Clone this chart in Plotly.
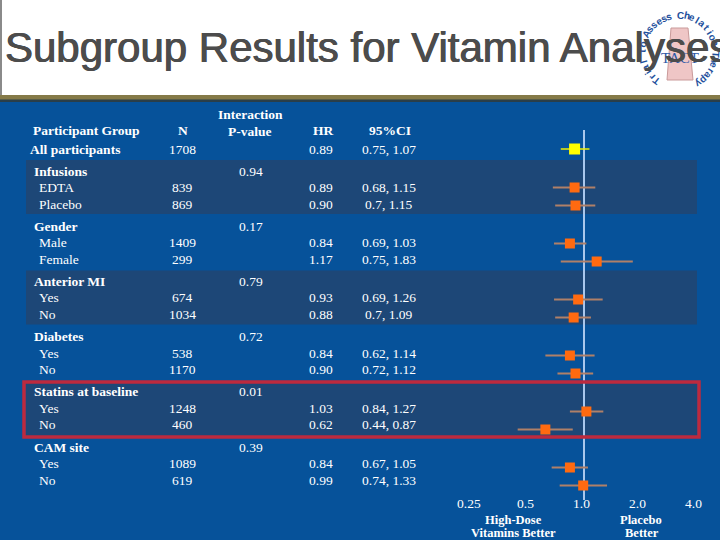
import math
import plotly.graph_objects as go

# ---------------- data ----------------
groups = ["Infusions", "Gender", "Anterior MI", "Diabetes", "Statins at baseline", "CAM site"]
sub_labels = [["EDTA", "Placebo"], ["Male", "Female"], ["Yes", "No"], ["Yes", "No"], ["Yes", "No"], ["Yes", "No"]]
n_values = [[839, 869], [1409, 299], [674, 1034], [538, 1170], [1248, 460], [1089, 619]]
p_values = ["0.94", "0.17", "0.79", "0.72", "0.01", "0.39"]
hr_values = [[0.89, 0.90], [0.84, 1.17], [0.93, 0.88], [0.84, 0.90], [1.03, 0.62], [0.84, 0.99]]
ci_low = [[0.68, 0.70], [0.69, 0.75], [0.69, 0.70], [0.62, 0.72], [0.84, 0.44], [0.67, 0.74]]
ci_high = [[1.15, 1.15], [1.03, 1.83], [1.26, 1.09], [1.14, 1.12], [1.27, 0.87], [1.05, 1.33]]

overall_label = "All participants"
overall_n = 1708
overall_hr = 0.89
overall_low = 0.75
overall_high = 1.07

tick_values = [0.25, 0.5, 1.0, 2.0, 4.0]
tick_labels = ["0.25", "0.5", "1.0", "2.0", "4.0"]

title_text = "Subgroup Results for Vitamin Analyses"
logo_text = "Trial to Assess Chelation Therapy"

# ---------------- styling ----------------
W, H = 720, 540
BLUE = "#06529a"
BAND = "#1d4777"
WHITE = "white"
SERIF = "Liberation Serif, Times New Roman, serif"
SANS = "Liberation Sans, Arial, sans-serif"
FS = 13.5

# x axis: log scale, 1.0 at 584 px, 56 px per doubling
px_per_dec = 56 / math.log10(2)
x_lo = -584 / px_per_dec
x_hi = (W - 584) / px_per_dec


def px(x):
    return x / W


fig = go.Figure()
shapes = []
annots = []


def text(x, y, s, bold=False, anchor="left", size=FS, color=WHITE, font=SERIF, **kw):
    f = dict(family=font, size=size, color=color)
    f.update(kw)
    annots.append(dict(
        x=px(x), y=y, xref="paper", yref="y", text=f"<b>{s}</b>" if bold else s,
        showarrow=False, xanchor=anchor, yanchor="middle", font=f))


# title area
shapes.append(dict(type="rect", xref="paper", yref="y", x0=0, x1=1, y0=0, y1=96,
                   fillcolor="white", line_width=0, layer="below"))
shapes.append(dict(type="rect", xref="paper", yref="y", x0=0, x1=1, y0=95, y1=100,
                   fillcolor="#857a48", line_width=0, layer="below"))
shapes.append(dict(type="rect", xref="paper", yref="y", x0=0, x1=1, y0=99.5, y1=102,
                   fillcolor="#2a3e48", line_width=0, layer="below"))
shapes.append(dict(type="line", xref="paper", yref="y", x0=px(1), x1=px(1), y0=0, y1=95,
                   line=dict(color="#8a8a8a", width=2), layer="below"))

# logo (approximation)
cx, cy, r = 679, 52, 37
shapes.append(dict(type="path", xref="paper", yref="y",
                   path=f"M {px(671)} 28 L {px(688)} 28 L {px(693)} 80 L {px(667)} 80 Z",
                   fillcolor="#efc6c6", line=dict(color="#c99a9a", width=1), layer="below"))
n_ch = len(logo_text)
start, end = 232, -58
for i, ch in enumerate(logo_text):
    th = start + (end - start) * i / (n_ch - 1)
    rad = math.radians(th)
    annots.append(dict(x=px(cx + r * math.cos(rad)), y=cy - r * math.sin(rad), xref="paper", yref="y",
                       text=f"<b>{ch}</b>", showarrow=False, textangle=90 - th,
                       xanchor="center", yanchor="middle",
                       font=dict(family=SANS, size=10, color="#1d4f9c")))
text(680, 58, "TACT", size=15, anchor="center", color="#2f5aa8", font=SERIF)

# title
text(3, 47, title_text, size=42, color="#4c4c4c", font=SANS,
     shadow="0.5px 0px 0px #4c4c4c, -0.5px 0px 0px #4c4c4c")

# headers
text(31, 130, "Participant Group", bold=True)
text(183, 130, "N", bold=True, anchor="center")
text(250, 114, "Interaction", bold=True, anchor="center")
text(250, 131, "P-value", bold=True, anchor="center")
text(323, 130, "HR", bold=True, anchor="center")
text(390, 130, "95%CI", bold=True, anchor="center")

# overall row
y_all = 149
text(28, y_all, overall_label, bold=True)
text(182, y_all, str(overall_n), anchor="center")
text(321, y_all, f"{overall_hr:.2f}", anchor="center")
text(389, y_all, f"{overall_low:g}, {overall_high:g}", anchor="center")

xs, ys, lo_err, hi_err = [], [], [], []
for i, g in enumerate(groups):
    g0 = 171 + 55.2 * i
    if i % 2 == 0:
        shapes.append(dict(type="rect", xref="paper", yref="y", x0=px(26), x1=px(697),
                           y0=g0 - 11, y1=g0 + 43 + (1.5 if i == 4 else 0),
                           fillcolor=BAND, line_width=0, layer="below"))
    text(32, g0, g, bold=True)
    text(251, g0, p_values[i], anchor="center")
    for j in range(2):
        ty = g0 + 16.5 + 16.5 * j
        text(37, ty, sub_labels[i][j])
        text(182, ty, str(n_values[i][j]), anchor="center")
        text(321, ty, f"{hr_values[i][j]:.2f}", anchor="center")
        text(389, ty, f"{ci_low[i][j]:g}, {ci_high[i][j]:g}", anchor="center")
        xs.append(hr_values[i][j])
        ys.append(g0 + 16.5 + 0.8 * i + 18 * j)
        lo_err.append(hr_values[i][j] - ci_low[i][j])
        hi_err.append(ci_high[i][j] - hr_values[i][j])

# red highlight box
shapes.append(dict(type="rect", xref="paper", yref="y", x0=px(24), x1=px(699), y0=382, y1=437,
                   fillcolor="rgba(0,0,0,0)", line=dict(color="#bd2a3e", width=3.5)))

# reference line at HR = 1
fig.add_trace(go.Scatter(x=[1, 1], y=[130, 500], mode="lines",
                         line=dict(color="#a9c7ec", width=2), hoverinfo="skip", showlegend=False))

# subgroup markers
fig.add_trace(go.Scatter(
    x=xs, y=ys, mode="markers",
    marker=dict(symbol="square", size=10, color="#ff6a10", line=dict(width=0)),
    error_x=dict(type="data", symmetric=False, array=hi_err, arrayminus=lo_err,
                 color="#b08068", thickness=2, width=0),
    showlegend=False))

# overall marker
fig.add_trace(go.Scatter(
    x=[overall_hr], y=[y_all], mode="markers",
    marker=dict(symbol="square", size=11, color="#ffff00", line=dict(width=0)),
    error_x=dict(type="data", symmetric=False, array=[overall_high - overall_hr],
                 arrayminus=[overall_hr - overall_low], color="#f0f000", thickness=1.5, width=0),
    showlegend=False))

# tick labels
for v, lab in zip(tick_values, tick_labels):
    annots.append(dict(x=math.log10(v), y=503, xref="x", yref="y", text=lab, showarrow=False,
                       xanchor="center", yanchor="middle", xshift=-3,
                       font=dict(family=SERIF, size=FS, color=WHITE)))

text(513, 520, "High-Dose", bold=True, anchor="center", size=12.5)
text(513, 533, "Vitamins Better", bold=True, anchor="center", size=12.5)
text(641, 520, "Placebo", bold=True, anchor="center", size=12.5)
text(642, 533, "Better", bold=True, anchor="center", size=12.5)

fig.update_layout(
    width=W, height=H, margin=dict(l=0, r=0, t=0, b=0),
    paper_bgcolor=BLUE, plot_bgcolor="rgba(0,0,0,0)",
    xaxis=dict(type="log", range=[x_lo, x_hi], visible=False, fixedrange=True),
    yaxis=dict(range=[H, 0], visible=False, fixedrange=True),
    shapes=shapes, annotations=annots, showlegend=False,
)

fig.write_html("out.html", config={"displayModeBar": False},
               post_script="document.body.style.margin='0';document.body.style.overflow='hidden';")
